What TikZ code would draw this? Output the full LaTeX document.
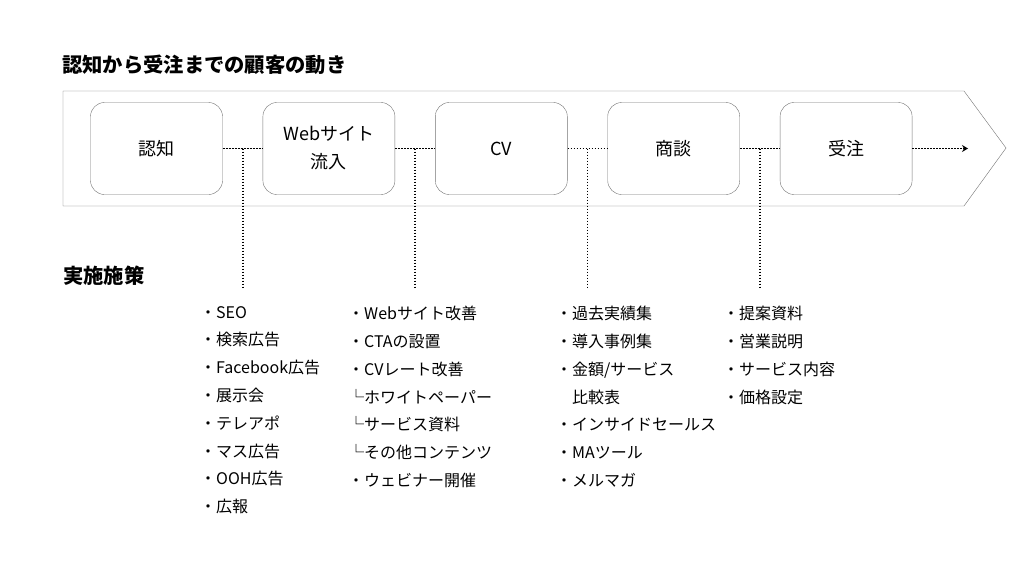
\documentclass[tikz,border=0pt]{standalone}
\usepackage{fontspec}
\setmainfont{Noto Sans CJK JP}
\usetikzlibrary{arrows.meta,positioning}

\begin{document}
\begin{tikzpicture}[
  x=1pt, y=-1pt,
  font=\fontsize{18}{28}\selectfont,
  node distance=40pt,
  stage/.style={draw=black!55,rounded corners=14pt,minimum height=92pt,minimum width=132pt,align=center,inner sep=0pt},
  head/.style={anchor=west,inner sep=0pt,font=\fontsize{20.3}{24}\selectfont\bfseries},
  plan/.style={anchor=north west,inner sep=0pt,align=left,font=\fontsize{16}{27.8}\selectfont},
  dots/.style={line width=1.8pt,dash pattern=on 1.8pt off 1.2pt},
  arr/.style={dots,-{Stealth[length=6pt,width=7pt]}}
]
\useasboundingbox (0,0) rectangle (1024,576);
\node[head] (title) at (62,65) {認知から受注までの顧客の動き};
% flow band
\draw[black!55] (63,91) -- (964,91) -- (1006,148) -- (964,206) -- (63,206) -- cycle;
\node[stage] (s1) at (156.5,148.5) {認知};
\node[stage,right=of s1] (s2) {Webサイト\\流入};
\node[stage,right=of s2] (s3) {CV};
\node[stage,right=of s3] (s4) {商談};
\node[stage,right=of s4] (s5) {受注};
\coordinate (flowend) at (968,148.5);
\draw[dots] (s1) -- (s2) coordinate[midway] (j1);
\draw[dots] (s2) -- (s3) coordinate[midway] (j2);
\draw[dots] (s3) -- (s4) coordinate[midway] (j3);
\draw[dots] (s4) -- (s5) coordinate[midway] (j4);
\draw[arr] (s5) -- (flowend);
% drops to the measures
\draw[dots] (j1) -- ++(0,140) coordinate (d1);
\draw[dots] (j2) -- ++(0,140) coordinate (d2);
\draw[dots] (j3) -- ++(0,140) coordinate (d3);
\draw[dots] (j4) -- ++(0,140) coordinate (d4);
\node[head] (measures) at (63,276) {実施施策};
\node[plan] (m1) at (200,306) {・SEO\\・検索広告\\・Facebook広告\\・展示会\\・テレアポ\\・マス広告\\・OOH広告\\・広報};
\node[plan] (m2) at (348,306) {・Webサイト改善\\・CTAの設置\\・CVレート改善\\└ホワイトペーパー\\└サービス資料\\└その他コンテンツ\\・ウェビナー開催};
\node[plan] (m3) at (556,306) {・過去実績集\\・導入事例集\\・金額/サービス\\　比較表\\・インサイドセールス\\・MAツール\\・メルマガ};
\node[plan] (m4) at (723,306) {・提案資料\\・営業説明\\・サービス内容\\・価格設定};
\end{tikzpicture}
\end{document}
